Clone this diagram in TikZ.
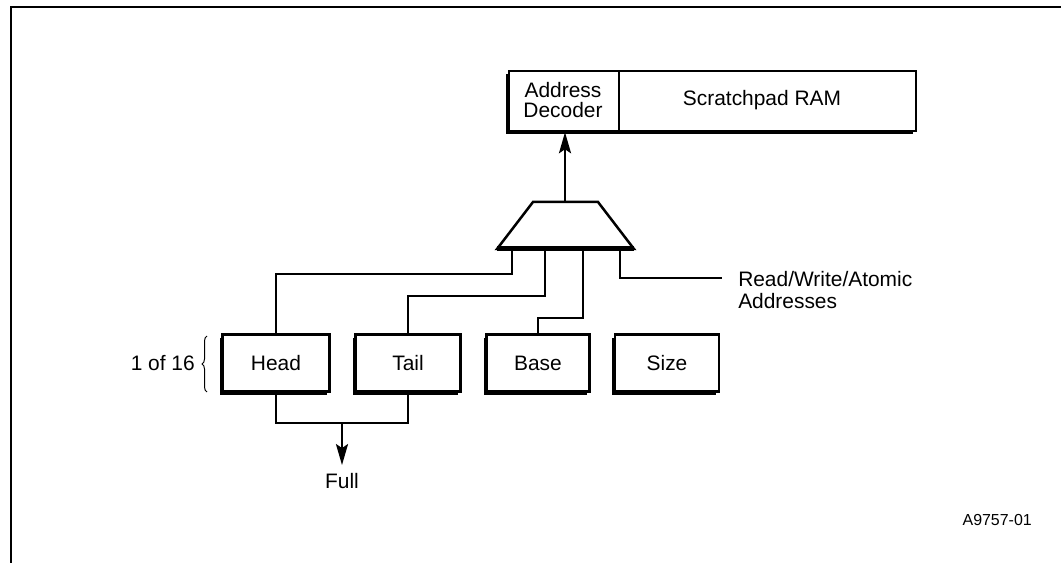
\documentclass[tikz,border=0pt]{standalone}
\usepackage{fontspec}
\setmainfont{Liberation Sans}
\usetikzlibrary{arrows.meta,shadows,decorations.pathreplacing,calc}
\begin{document}
\begin{tikzpicture}[x=1bp,y=-1bp,
  line width=2.5bp,
  txt/.style={font=\fontsize{21}{21}\selectfont, inner sep=0pt, align=center},
  regbox/.style={draw, fill=white, line width=2.5bp, minimum height=57bp, inner sep=0pt,
    font=\fontsize{21}{21}\selectfont,
    drop shadow={shadow xshift=-3bp, shadow yshift=-3bp, fill=black, opacity=1}},
  arr/.style={-{Stealth[length=21bp,width=12bp,inset=4bp]}, line width=2.5bp}]
\useasboundingbox (0,0) rectangle (1061,563);
% frame
\draw[line width=2.5bp] (11,563) -- (11,7) -- (1061,7);
% top box
\node[regbox, minimum width=407bp, minimum height=60bp] (top) at (712.5,101) {};
\node[txt] (dec) at (563,100) {Address\\Decoder};
\node[txt] (ram) at (762,100) {Scratchpad RAM};
\draw (619,71) -- (619,131);
% mux
\coordinate (mtl) at (533,202);
\coordinate (mtr) at (598,202);
\coordinate (mbl) at (497,249);
\coordinate (mbr) at (634,249);
\coordinate (mtop) at (565,202);
\draw[fill=white, line join=miter] (mtl) -- (mtr) -- (mbr) -- (mbl) -- cycle;
\draw[line width=5bp] (mbl) -- (mbr);
\draw[arr] (mtop) -- (mtop |- top.south);
% registers
\node[regbox, minimum width=107bp] (head) at (276,363) {Head};
\node[regbox, minimum width=105bp] (tail) at (408,363) {Tail};
\node[regbox, minimum width=103bp] (base) at (538,363) {Base};
\node[regbox, minimum width=104bp] (size) at (667,363) {Size};
% legs
\coordinate (l1) at (512,249);
\coordinate (l2) at (545,249);
\coordinate (l3) at (583,249);
\coordinate (l4) at (620,249);
\draw (l1) -- ++(0,25) -| (head.north);
\draw (l2) -- ++(0,47) -| (tail.north);
\draw (l3) -- ++(0,69) -| (base.north);
\node[txt, anchor=north west, align=left, font=\fontsize{21}{22}\selectfont] (rwa) at (737,270) {Read/Write/Atomic\\Addresses};
\draw (l4) -- ++(0,29) -- (722,278);
% full
\draw (head.south) -- ++(0,30) -| (tail.south);
\coordinate (fm) at ($(head.south)!0.5!(tail.south)+(0,30)$);
\node[txt] (full) at (342,481) {Full};
\draw[arr, shorten >=7bp] (fm) -- (full.north);
% brace
\draw[decorate, decoration={brace, amplitude=5bp}, line width=1bp] (207,392) -- (207,336);
\node[txt, anchor=east] (n16) at (196,363) {1 of 16};
\node[font=\fontsize{16}{18}\selectfont, inner sep=0pt, anchor=east] (id) at (1033,520) {A9757-01};
\end{tikzpicture}
\end{document}
